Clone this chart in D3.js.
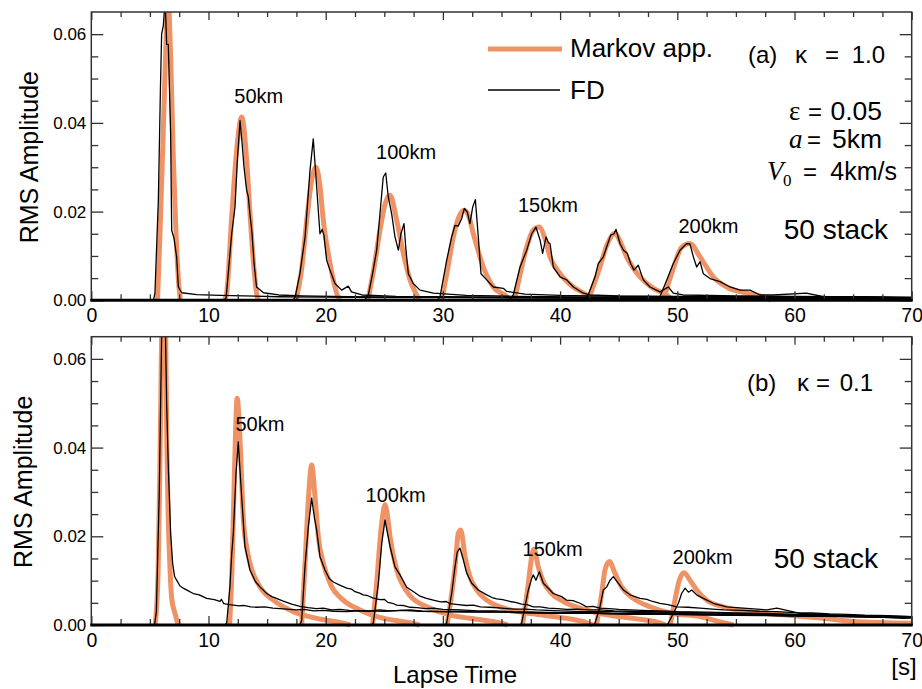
<!DOCTYPE html>
<html>
<head>
<meta charset="utf-8">
<script src="https://cdn.jsdelivr.net/npm/d3@7"></script>
<style>
  body { margin: 0; background: #fff; }
  text { font-family: "Liberation Sans", Arial, sans-serif; fill: #000; }
</style>
</head>
<body>
<script>
// ---- axis ticks ----
const xTicks = [0, 10, 20, 30, 40, 50, 60, 70];
const xMinor = [2.5, 5, 7.5, 12.5, 15, 17.5, 22.5, 25, 27.5, 32.5, 35, 37.5, 42.5, 45, 47.5, 52.5, 55, 57.5, 62.5, 65, 67.5];
const yTicks = [0, 0.02, 0.04, 0.06];
const yMinor = [0.005, 0.01, 0.015, 0.025, 0.03, 0.035, 0.045, 0.05, 0.055];

// ---- (a) kappa = 1.0 : Markov approximation, [lapse time s, RMS amplitude] ----
const mkA1 = [[5.65,0],[5.86,0.015],[6.14,0.038],[6.37,0.058],[6.55,0.068],[6.77,0.055],[7.0,0.032],[7.23,0.015],[7.45,0.004],[7.6,0]];
const mkA2 = [[11.35,0],[11.55,0.0016],[11.98,0.0188],[12.4,0.0338],[12.83,0.0413],[13.26,0.0315],[13.54,0.0196],[13.82,0.009],[14.1,0.0016],[14.25,0]];
const mkA3 = [[17.45,0],[17.9,0.006],[18.38,0.018],[18.8,0.027],[19.17,0.030],[19.5,0.026],[19.8,0.018],[20.37,0.0083],[20.94,0.0016],[21.2,0]];
const mkA4 = [[23.6,0],[24.1,0.007],[24.63,0.0158],[25.1,0.022],[25.49,0.0237],[26.06,0.018],[26.62,0.0106],[27.2,0.0046],[27.76,0.0012],[28.0,0]];
const mkA5 = [[29.9,0],[30.4,0.007],[30.89,0.0143],[31.4,0.019],[31.8,0.0203],[32.2,0.019],[32.6,0.015],[33.45,0.0075],[34.3,0.003],[35.44,0.0008],[35.7,0]];
const mkA6 = [[36.1,0],[36.6,0.006],[37.15,0.012],[37.7,0.0158],[38.2,0.0165],[38.7,0.014],[39.14,0.0098],[40,0.006],[41.13,0.003],[42.27,0.0012],[42.8,0]];
const mkA7 = [[42.4,0],[43.4,0.0075],[44.0,0.0125],[44.68,0.0151],[45.2,0.0128],[45.68,0.0098],[46.82,0.0053],[47.95,0.0027],[49.1,0.0012],[49.6,0]];
const mkA8 = [[48.8,0],[49.66,0.0072],[50.38,0.012],[51.08,0.0128],[51.94,0.0098],[53.07,0.0053],[54.21,0.003],[55.92,0.0016],[57.6,0.0005],[58,0]];

// ---- (a) kappa = 1.0 : FD simulation ----
const fdA1 = [[5.3,0],[5.43,0.0016],[5.72,0.0225],[5.9,0.048],[6.0,0.06],[6.15,0.062],[6.3,0.068],[6.43,0.0577],[6.57,0.0577],[6.77,0.0375],[6.86,0.0158],[7.06,0.0139],[7.28,0.0098],[7.43,0.003],[7.71,0.0017],[9,0.0013],[11,0.0011],[13,0.001],[16,0.0008],[20,0.0007],[25,0.0006],[30,0.0006],[40,0.0005],[50,0.0004],[60,0.0004],[70,0.0003]];
const fdA2 = [[11.3,0],[11.5,0.0005],[11.98,0.015],[12.26,0.021],[12.46,0.0315],[12.69,0.0405],[12.85,0.036],[13.03,0.030],[13.2,0.026],[13.26,0.0248],[13.4,0.0233],[13.55,0.019],[13.69,0.0158],[13.9,0.008],[14.1,0.003],[14.7,0.0017],[16,0.0012],[18,0.001],[22,0.0008],[28,0.0007],[35,0.0006],[45,0.0005],[55,0.0005],[70,0.0004]];
const fdA3 = [[17.2,0],[17.4,0.0008],[17.8,0.006],[18.24,0.0143],[18.66,0.0293],[18.94,0.0364],[19.23,0.0255],[19.51,0.015],[19.7,0.016],[19.85,0.0147],[20.08,0.009],[20.37,0.0068],[20.79,0.0038],[21.36,0.0023],[21.93,0.0032],[22.2,0.0019],[23.1,0.0012],[26,0.0009],[30,0.0008],[40,0.0006],[50,0.0005],[60,0.0005],[70,0.0004]];
const fdA4 = [[23.3,0],[23.64,0.0012],[24.0,0.006],[24.35,0.0113],[24.63,0.0195],[24.91,0.0278],[25.12,0.0287],[25.34,0.0233],[25.63,0.0195],[25.91,0.0143],[26.2,0.0113],[26.42,0.015],[26.68,0.0173],[26.85,0.0113],[27.05,0.006],[27.47,0.0038],[28.05,0.0023],[29.2,0.0016],[32,0.0011],[36,0.0009],[45,0.0007],[55,0.0006],[70,0.0005]];
const fdA5 = [[29.5,0],[29.75,0.0008],[30.32,0.009],[30.75,0.0143],[31.03,0.0169],[31.3,0.0167],[31.6,0.0184],[31.83,0.0207],[32.08,0.0199],[32.31,0.0173],[32.54,0.021],[32.77,0.0227],[33.02,0.0143],[33.25,0.006],[33.74,0.0046],[34.3,0.003],[35.15,0.0027],[35.45,0.002],[37,0.0014],[40,0.0011],[45,0.0009],[55,0.0007],[70,0.0006]];
const fdA6 = [[35.7,0],[36,0.0012],[36.58,0.0075],[37.15,0.0113],[37.58,0.015],[37.94,0.0165],[38.29,0.0136],[38.51,0.0106],[38.8,0.0143],[39.0,0.013],[39.14,0.0128],[39.42,0.0075],[40,0.0053],[40.56,0.0046],[41.13,0.003],[41.98,0.0016],[42.55,0.0012],[45,0.001],[50,0.0009],[60,0.0008],[70,0.0006]];
const fdA7 = [[42.1,0],[42.4,0.0012],[42.98,0.0053],[43.26,0.0083],[43.69,0.0098],[43.97,0.012],[44.32,0.0147],[44.6,0.015],[44.77,0.016],[45.11,0.0128],[45.4,0.0113],[45.73,0.0106],[46.02,0.0083],[46.3,0.0068],[46.67,0.0079],[47.1,0.0046],[47.67,0.003],[48.52,0.0019],[49.23,0.003],[49.66,0.0016],[50.5,0.0012],[55,0.001],[60,0.0009],[70,0.0007]];
const fdA8 = [[48.2,0],[48.52,0.0008],[49.1,0.0046],[49.66,0.0083],[50.23,0.0113],[50.8,0.0128],[51.08,0.0127],[51.37,0.0098],[51.65,0.0075],[51.94,0.0087],[52.22,0.006],[52.79,0.0049],[53.64,0.0042],[54.5,0.003],[55.35,0.0023],[56.2,0.0023],[57.06,0.0012],[58.2,0.0012],[61,0.0016],[62.5,0.0008],[66,0.0008],[70,0.0005]];

// ---- (b) kappa = 0.1 : Markov approximation ----
const mkB1 = [[5.45,0],[5.7,0.012],[5.85,0.035],[6.0,0.065],[6.15,0.09],[6.35,0.065],[6.45,0.04],[6.57,0.0237],[6.72,0.0124],[6.86,0.006],[7.14,0.0026],[7.42,0]];
const mkB2 = [[11.8,0],[12.0,0.012],[12.2,0.033],[12.45,0.0511],[12.69,0.0417],[12.97,0.024],[13.26,0.0175],[13.54,0.0139],[14.39,0.0086],[15.53,0.0056],[17.24,0.003],[19.23,0.0015],[21.5,0.0004],[22.1,0]];
const mkB3 = [[17.95,0],[18.2,0.012],[18.52,0.0282],[18.8,0.0361],[19.09,0.0289],[19.37,0.0199],[19.8,0.0139],[20.37,0.0094],[21.5,0.0056],[22.93,0.0034],[24.35,0.0019],[26,0.001],[27.2,0.0005],[28,0]];
const mkB4 = [[24.0,0],[24.3,0.008],[24.78,0.0229],[25.06,0.0271],[25.3,0.024],[25.49,0.0199],[26.06,0.0124],[26.5,0.0094],[27.2,0.0066],[28.62,0.0041],[30.6,0.0023],[33.45,0.0011],[35,0.0004],[35.5,0]];
const mkB5 = [[30.35,0],[30.7,0.006],[31.03,0.013],[31.32,0.0207],[31.52,0.0214],[31.89,0.0154],[32.31,0.0109],[32.88,0.0079],[33.74,0.0056],[34.87,0.0041],[36.58,0.003],[38.28,0.0023],[40.56,0.0015],[42.3,0.0005],[42.8,0]];
const mkB6 = [[36.8,0],[37.29,0.0094],[37.58,0.0154],[37.77,0.0171],[38.14,0.0131],[38.57,0.0098],[39.28,0.0071],[40.28,0.0053],[41.7,0.0038],[43.4,0.0026],[46.25,0.0015],[48.5,0.0005],[49,0]];
const mkB7 = [[43.1,0],[43.55,0.0071],[43.83,0.0124],[44.2,0.0143],[44.68,0.0117],[45.25,0.0086],[46.25,0.006],[47.67,0.0041],[49.66,0.0026],[51.94,0.0019],[53.5,0.0008],[54.8,0]];
const mkB8 = [[49.4,0],[49.8,0.0056],[50.17,0.0101],[50.57,0.0118],[51.08,0.0101],[51.65,0.0079],[52.5,0.0056],[53.93,0.0041],[56.2,0.003],[59.04,0.0023],[62.45,0.0015],[65,0.0008],[70,0.0004]];

// ---- (b) kappa = 0.1 : FD simulation ----
const fdB1 = [[5.4,0],[5.55,0.003],[5.8,0.03],[6.0,0.065],[6.15,0.09],[6.3,0.07],[6.43,0.05],[6.57,0.0357],[6.77,0.0207],[6.94,0.0139],[7.1,0.011],[7.28,0.0101],[7.57,0.0088],[7.85,0.0083],[8.2,0.0078],[8.7,0.0071],[9.2,0.0068],[9.85,0.006],[10.5,0.0057],[10.98,0.0053],[11.1,0.0058],[11.3,0.0048],[11.8,0.0046],[12.12,0.0045],[12.6,0.0043],[13,0.0044],[13.6,0.0041],[14.1,0.004],[14.8,0.0041],[15.5,0.0038],[16.1,0.0037],[16.67,0.0036],[17.5,0.0034],[18.2,0.0035],[18.94,0.0032],[19.8,0.0033],[20.7,0.0031],[21.8,0.003],[22.8,0.0032],[23.7,0.0031],[24.6,0.0034],[25.5,0.0032],[26.4,0.0033],[27.2,0.0034],[28.3,0.0031],[30,0.003],[31.5,0.0031],[33,0.0029],[35,0.0029],[37,0.0028],[40,0.0027],[42,0.0027],[45,0.0025],[47,0.0025],[50,0.0024],[52.5,0.0023],[55,0.0022],[57.5,0.0022],[60,0.002],[62.5,0.002],[65,0.0019],[67.5,0.0018],[70,0.0017]];
const fdB2 = [[11.4,0],[11.55,0.0004],[11.83,0.0086],[11.98,0.016],[12.12,0.0207],[12.35,0.0342],[12.54,0.0413],[12.83,0.0289],[13.11,0.0177],[13.54,0.0124],[14.0,0.0098],[14.39,0.0086],[14.97,0.0071],[15.4,0.0064],[15.7,0.0061],[16.0,0.0058],[16.38,0.0054],[16.8,0.005],[17.1,0.0047],[17.8,0.0042],[18.5,0.0039],[19.2,0.0037],[19.8,0.0038],[20.5,0.0034],[21.2,0.0035],[22,0.0033],[23.5,0.0032],[25,0.0031],[26.5,0.0033],[28,0.0031],[30,0.003],[32,0.0029],[34,0.003],[36,0.0028],[38,0.0027],[40,0.0026],[43,0.0026],[46,0.0024],[49,0.0024],[52,0.0023],[55,0.0022],[58,0.0021],[61,0.002],[64,0.0019],[67,0.0018],[70,0.0016]];
const fdB3 = [[17.8,0],[17.95,0.001],[18.23,0.0131],[18.52,0.0222],[18.8,0.0286],[19.05,0.024],[19.23,0.0214],[19.51,0.0154],[19.94,0.0124],[20.3,0.0105],[20.65,0.0097],[21.2,0.009],[21.79,0.0083],[22.2,0.0081],[22.5,0.0075],[22.9,0.0072],[23.2,0.0068],[23.6,0.0066],[24,0.0061],[24.63,0.0057],[25,0.0058],[25.3,0.0051],[25.7,0.0049],[26.06,0.0045],[26.6,0.0044],[27.2,0.004],[27.8,0.0039],[28.5,0.0037],[29.2,0.0038],[30,0.0035],[31.5,0.0034],[33,0.0032],[34.5,0.0032],[36,0.003],[38,0.0029],[40,0.0028],[42.5,0.0028],[45,0.0026],[47.5,0.0026],[50,0.0025],[52.5,0.0024],[55,0.0023],[57.5,0.0022],[60,0.0021],[62.5,0.002],[65,0.0019],[67.5,0.0018],[70,0.0017]];
const fdB4 = [[23.9,0],[24.06,0.0004],[24.49,0.0094],[24.78,0.0184],[25.06,0.0237],[25.25,0.021],[25.49,0.0177],[25.91,0.0131],[26.34,0.0113],[26.91,0.0085],[27.5,0.0075],[28.05,0.0065],[28.6,0.006],[29.18,0.0056],[29.8,0.0052],[30.3,0.0053],[30.6,0.0048],[31.3,0.0046],[32,0.0044],[32.6,0.0045],[33.2,0.0041],[34,0.004],[35,0.0038],[36,0.0036],[37,0.0036],[38,0.0034],[40,0.0032],[42,0.003],[44.5,0.003],[47,0.0028],[49.5,0.0027],[52,0.0025],[54.5,0.0024],[57,0.0023],[59.5,0.0022],[62,0.0021],[64,0.002],[66,0.0019],[68,0.0019],[70,0.0017]];
const fdB5 = [[30.2,0],[30.32,0.0004],[30.75,0.0071],[31.03,0.0131],[31.23,0.0165],[31.46,0.0173],[31.74,0.0147],[32.03,0.0117],[32.46,0.0094],[33.02,0.0079],[33.74,0.0068],[34.2,0.0062],[34.59,0.0059],[35.1,0.0057],[35.73,0.0053],[36.2,0.0051],[36.7,0.0047],[37.2,0.0046],[37.7,0.0041],[38.3,0.0041],[39,0.0038],[39.8,0.0037],[40.56,0.0035],[41.5,0.0036],[42.5,0.0034],[43.4,0.0034],[44.6,0.0032],[46,0.0031],[48,0.003],[50,0.0029],[52.5,0.0027],[55,0.0026],[57.5,0.0024],[60,0.0023],[62.5,0.0022],[65,0.002],[67.5,0.0019],[70,0.0018]];
const fdB6 = [[36.6,0],[36.72,0.0004],[37,0.0041],[37.29,0.0079],[37.58,0.0105],[37.71,0.0113],[37.94,0.0101],[38.23,0.012],[38.57,0.0094],[38.99,0.0083],[39.42,0.0071],[40.14,0.0064],[40.56,0.0056],[41.1,0.0055],[41.7,0.0049],[42.27,0.0041],[42.8,0.0042],[43.4,0.0038],[44.2,0.0037],[45,0.0035],[46,0.0034],[47,0.0033],[48.5,0.0032],[50,0.003],[52.5,0.0029],[55,0.0027],[57.5,0.0026],[60,0.0024],[62.5,0.0023],[65,0.0021],[67.5,0.002],[70,0.0019]];
const fdB7 = [[42.8,0],[42.98,0.0004],[43.4,0.0041],[43.69,0.0079],[43.98,0.0086],[44.26,0.0101],[44.54,0.0109],[44.97,0.0094],[45.4,0.0079],[45.96,0.0068],[46.82,0.006],[47.4,0.0058],[47.9,0.0053],[48.52,0.0049],[49.2,0.0046],[49.95,0.0041],[50.9,0.004],[51.94,0.0038],[53,0.0036],[54,0.0034],[55.5,0.0033],[57,0.0031],[58.5,0.003],[60,0.0028],[61.5,0.0027],[63,0.0025],[64.5,0.0024],[66,0.0022],[68,0.0021],[70,0.0019]];
const fdB8 = [[49.1,0],[49.23,0.0004],[49.66,0.0026],[50.09,0.0049],[50.37,0.0071],[50.66,0.0083],[50.95,0.0074],[51.23,0.0079],[51.65,0.0068],[52.22,0.006],[53.07,0.0049],[54.21,0.0041],[55.63,0.0038],[57.63,0.0034],[58.5,0.0038],[60.47,0.0026],[63.3,0.0023],[66.2,0.0019],[69.3,0.0015],[70,0.0016]];

// distance labels [text, time, amplitude]
const kmLabelsA = [["50km", 12.2, 0.0444], ["100km", 24.3, 0.0318], ["150km", 36.4, 0.020], ["200km", 50.1, 0.0151]];
const kmLabelsB = [["50km", 12.3, 0.0438], ["100km", 23.4, 0.0277], ["150km", 36.8, 0.0156], ["200km", 49.6, 0.0137]];

const W = 922, H = 689;
const orange = "#ef9366";

const svg = d3.select("body").append("svg")
  .attr("width", W).attr("height", H);

const x = d3.scaleLinear().domain([0, 70]).range([91.3, 911.7]);

function drawPanel(cfg) {
  const y = d3.scaleLinear().domain([0, 0.065]).range([cfg.bottom, cfg.top]);
  const g = svg.append("g");

  // clip the traces to the plot box
  svg.append("clipPath").attr("id", "clip" + cfg.id)
    .append("rect")
      .attr("x", x(0)).attr("y", cfg.top)
      .attr("width", x(70) - x(0)).attr("height", cfg.bottom - cfg.top + 3);

  const plot = g.append("g").attr("clip-path", `url(#clip${cfg.id})`);

  const smooth = d3.line().curve(d3.curveMonotoneX)
    .x(d => x(d[0])).y(d => y(d[1]));
  const rough = d3.line()
    .x(d => x(d[0])).y(d => y(d[1]));

  // Markov approximation (thick orange) underneath
  plot.selectAll("path.mk")
    .data(cfg.mk)
    .enter().append("path")
      .attr("class", "mk")
      .attr("d", smooth)
      .attr("fill", "none")
      .attr("stroke", orange)
      .attr("stroke-width", 5)
      .attr("stroke-linejoin", "round");

  // FD traces (thin black) on top
  plot.selectAll("path.fd")
    .data(cfg.fd)
    .enter().append("path")
      .attr("class", "fd")
      .attr("d", rough)
      .attr("fill", "none")
      .attr("stroke", "#000")
      .attr("stroke-width", 1.3)
      .attr("stroke-linejoin", "round");

  // frame + ticks
  function axisGroup(axis, tx, ty) {
    const a = g.append("g").attr("transform", `translate(${tx},${ty})`).call(axis);
    a.select(".domain").remove();
    a.selectAll(".tick line").attr("stroke", "#333").attr("stroke-width", 1.3);
    a.attr("font-family", null).attr("font-size", null);
    return a;
  }

  // bottom: labels + inward ticks
  const xb = axisGroup(d3.axisBottom(x).tickValues(xTicks).tickFormat(d3.format("d"))
    .tickSize(-9).tickPadding(8), 0, cfg.bottom);
  xb.selectAll("text").attr("font-size", 19.5);
  axisGroup(d3.axisBottom(x).tickValues(xMinor).tickFormat("").tickSize(-6), 0, cfg.bottom);
  // top
  axisGroup(d3.axisTop(x).tickValues(xTicks).tickFormat("").tickSize(-8), 0, cfg.top);
  axisGroup(d3.axisTop(x).tickValues(xMinor).tickFormat("").tickSize(-5), 0, cfg.top);
  // left
  const yl = axisGroup(d3.axisLeft(y).tickValues(yTicks).tickFormat(d3.format(".2f"))
    .tickSize(-12).tickPadding(5), x(0), 0);
  yl.selectAll("text").attr("font-size", 17);
  axisGroup(d3.axisLeft(y).tickValues(yMinor).tickFormat("").tickSize(-7), x(0), 0);
  // right
  axisGroup(d3.axisRight(y).tickValues(yTicks).tickFormat("").tickSize(-12), x(70), 0);
  axisGroup(d3.axisRight(y).tickValues(yMinor).tickFormat("").tickSize(-7), x(70), 0);

  g.append("rect")
    .attr("x", x(0)).attr("y", cfg.top)
    .attr("width", x(70) - x(0)).attr("height", cfg.bottom - cfg.top)
    .attr("fill", "none").attr("stroke", "#333").attr("stroke-width", 1.5);
  g.append("line")
    .attr("x1", x(0) - 1).attr("x2", x(70) + 1)
    .attr("y1", y(0)).attr("y2", y(0))
    .attr("stroke", "#000").attr("stroke-width", 3);

  // y title
  g.append("text")
    .attr("transform", `translate(${cfg.titleX},${(cfg.top + cfg.bottom) / 2 + 1}) rotate(-90)`)
    .attr("text-anchor", "middle")
    .attr("dy", "0.35em")
    .attr("font-size", 25)
    .text("RMS Amplitude");

  // distance labels
  g.selectAll("text.km")
    .data(cfg.km)
    .enter().append("text")
      .attr("class", "km")
      .attr("x", d => x(d[1]))
      .attr("y", d => y(d[2]))
      .attr("font-size", 20)
      .text(d => d[0]);

  return g;
}

const gA = drawPanel({ id: "a", top: 12, bottom: 300.3, titleX: 29,
  mk: [mkA1, mkA2, mkA3, mkA4, mkA5, mkA6, mkA7, mkA8],
  fd: [fdA1, fdA2, fdA3, fdA4, fdA5, fdA6, fdA7, fdA8],
  km: kmLabelsA });

const gB = drawPanel({ id: "b", top: 336.7, bottom: 625, titleX: 23,
  mk: [mkB1, mkB2, mkB3, mkB4, mkB5, mkB6, mkB7, mkB8],
  fd: [fdB1, fdB2, fdB3, fdB4, fdB5, fdB6, fdB7, fdB8],
  km: kmLabelsB });

// legend (panel a)
const leg = svg.append("g");
leg.append("line").attr("x1", 488).attr("x2", 562).attr("y1", 49).attr("y2", 49)
  .attr("stroke", orange).attr("stroke-width", 5);
leg.append("text").attr("x", 570).attr("y", 57).attr("font-size", 26).text("Markov app.");
leg.append("line").attr("x1", 488).attr("x2", 560).attr("y1", 90).attr("y2", 90)
  .attr("stroke", "#000").attr("stroke-width", 1.5);
leg.append("text").attr("x", 570).attr("y", 99).attr("font-size", 26).text("FD");

// annotations
function txt(s, xx, yy, size, opts) {
  opts = opts || {};
  const t = svg.append("text").attr("x", xx).attr("y", yy)
    .attr("font-size", size).attr("text-anchor", opts.anchor || "start").text(s);
  if (opts.serif) t.style("font-family", '"Liberation Serif", "Times New Roman", serif');
  if (opts.italic) t.attr("font-style", "italic");
  return t;
}

// panel (a)
txt("(a)", 748, 63, 24);
txt("κ", 795, 63, 24);
txt("=", 825, 63, 24);
txt("1.0", 885, 63, 24, { anchor: "end" });
txt("ε", 789, 120, 27, { serif: true });
txt("=", 808, 120, 24);
txt("0.05", 882, 120, 26.5, { anchor: "end" });
txt("a", 789, 148, 27, { serif: true, italic: true });
txt("=", 807, 148, 24);
txt("5km", 882, 148, 26.5, { anchor: "end" });
txt("V", 767, 180, 27, { serif: true, italic: true });
txt("0", 783, 186, 17, { serif: true });
txt("=", 803, 180, 24);
txt("4km/s", 897, 180, 25, { anchor: "end" });
txt("50 stack", 888, 239, 28, { anchor: "end" });

// panel (b)
txt("(b)", 747, 391, 24);
txt("κ", 797, 391, 24);
txt("=", 816, 391, 24);
txt("0.1", 873, 391, 24, { anchor: "end" });
txt("50 stack", 878, 568, 28, { anchor: "end" });

// x title + unit
txt("Lapse Time", 455, 683, 24, { anchor: "middle" });
txt("[s]", 904, 675, 24, { anchor: "middle" });
</script>
</body>
</html>
